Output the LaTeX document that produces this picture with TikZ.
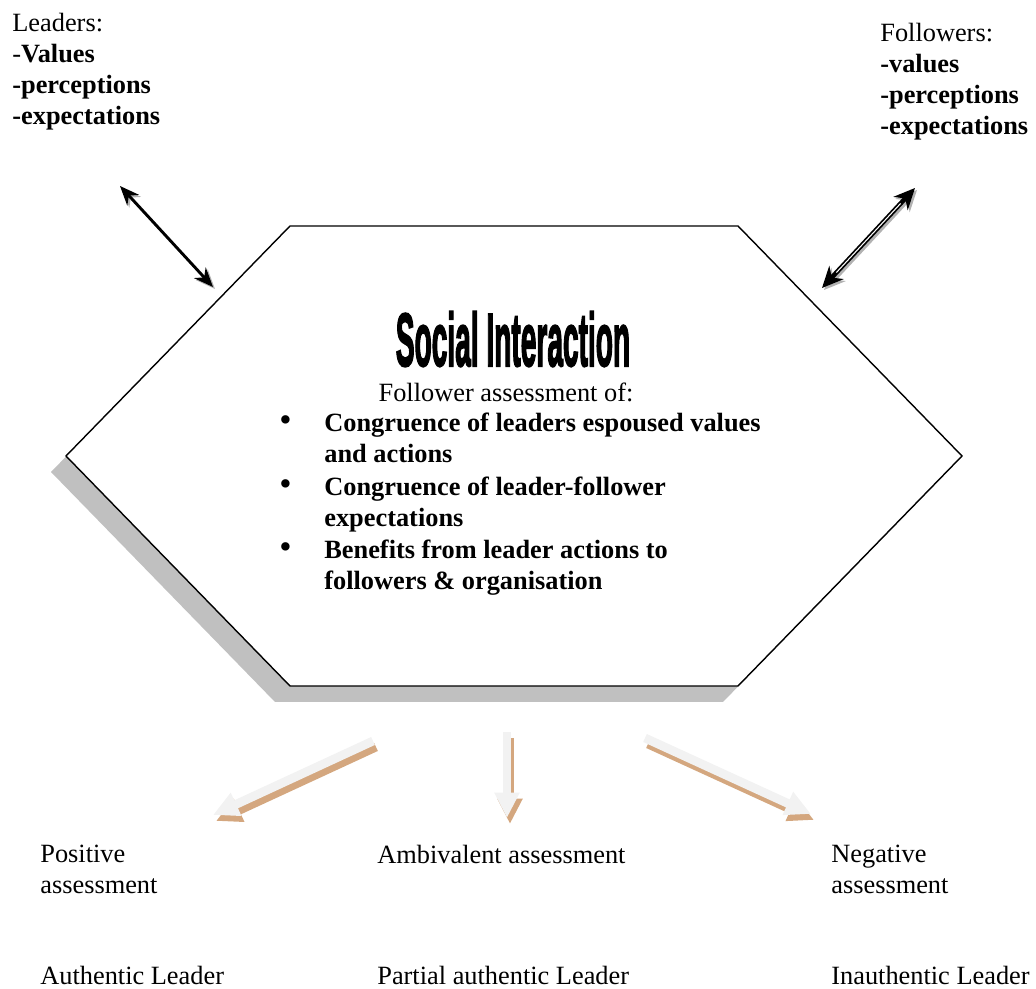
\documentclass[tikz,border=0pt]{standalone}
\usepackage{fontspec}
\setmainfont{Liberation Serif}
\setsansfont{Liberation Sans}
\newfontfamily\wordart[FakeBold=3]{Liberation Sans Bold}
\usepackage{tikz}
\usetikzlibrary{arrows.meta, positioning, calc}
\definecolor{hexshadow}{RGB}{192,192,192}
\definecolor{outfill}{RGB}{242,242,242}
\definecolor{outshade}{RGB}{212,167,127}
\tikzset{
  txt/.style={inner sep=0pt,align=left,font=\fontsize{15}{17.6}\selectfont},
  hexbox/.style={draw=black,line width=0.8pt,fill=white,line join=miter},
  linkarr/.style={line width=1.6pt,{Stealth[length=11pt,width=9pt]}-{Stealth[length=11pt,width=9pt]}},
  duoarr/.style={line width=2.6pt,{Stealth[length=12pt,width=11pt]}-{Stealth[length=12pt,width=11pt]}},
  outarr/.style={line width=5pt,-{Triangle[length=14.5pt,width=13.5pt]}}
}

\begin{document}
\begin{tikzpicture}[x=0.02cm,y=-0.02cm]
  \useasboundingbox (0,0) rectangle (1036,989);

  % hexagon corners
  \coordinate (h1) at (290,226);
  \coordinate (h2) at (738,226);
  \coordinate (h3) at (962,456);
  \coordinate (h4) at (738,686);
  \coordinate (h5) at (290,686);
  \coordinate (h6) at (66,456);
  \fill[hexshadow] ($(h1)+(-15,16)$) -- ($(h2)+(-15,16)$) -- ($(h3)+(-15,16)$)
     -- ($(h4)+(-15,16)$) -- ($(h5)+(-15,16)$) -- ($(h6)+(-15,16)$) -- cycle;
  \draw[hexbox] (h1) -- (h2) -- (h3) -- (h4) -- (h5) -- (h6) -- cycle;

  % top labels
  \node[txt,anchor=north west] (lead) at (12,13)
      {Leaders:\\-\textbf{Values}\\\textbf{-perceptions}\\\textbf{-expectations}};
  \node[txt,anchor=north west] (foll) at (880,23)
      {Followers:\\\textbf{-values}\\\textbf{-perceptions}\\\textbf{-expectations}};

  % centre of the hexagon
  \node[inner sep=0pt] (title) at (513,339)
      {\scalebox{0.4}[1.07]{\wordart\fontsize{40}{40}\selectfont Social Interaction}};
  \node[txt,anchor=center] (assess) at (506,392) {Follower assessment of:};
  \node[txt,anchor=north west] (items) at (279,410)
      {\renewcommand{\arraystretch}{1}%
       \begin{tabular}{@{}p{0.9cm}@{}l@{}}
       {\fontsize{20}{17.6}\selectfont\textbullet} & \textbf{Congruence of leaders espoused values}\\
                   & \textbf{and actions}\\[0.8pt]
       {\fontsize{20}{17.6}\selectfont\textbullet} & \textbf{Congruence of leader-follower}\\
                   & \textbf{expectations}\\[0.8pt]
       {\fontsize{20}{17.6}\selectfont\textbullet} & \textbf{Benefits from leader actions to}\\
                   & \textbf{followers \& organisation}
       \end{tabular}};

  % two-way links
  \coordinate (la) at (120,186);
  \coordinate (lb) at (213,287);
  \coordinate (fa) at (915,188);
  \coordinate (fb) at (822,288);
  \draw[linkarr,gray!60] ($(la)+(2,2)$) -- ($(lb)+(2,2)$);
  \draw[linkarr] (la) -- (lb);
  \draw[duoarr,gray!60] ($(fa)+(2,2)$) -- ($(fb)+(2,2)$);
  \draw[duoarr] (fa) -- (fb);
  \draw[white,line width=0.6pt,shorten <=12pt,shorten >=12pt] (fa) -- (fb);

  % outcome arrows
  \coordinate (o1a) at (373,741);
  \coordinate (o1b) at (213,815);
  \coordinate (o2a) at (507,732);
  \coordinate (o2b) at (507,818);
  \coordinate (o3a) at (645,738);
  \coordinate (o3b) at (811,814);
  \foreach \s/\e in {o1a/o1b,o2a/o2b,o3a/o3b}{
    \draw[outarr,outshade] ($(\s)+(3,6)$) -- ($(\e)+(3,6)$);
    \draw[outarr,outfill] (\s) -- (\e);
  }

  % outcomes
  \node[txt,anchor=north west] (pos) at (40,845) {Positive\\assessment};
  \node[txt,anchor=north west] (amb) at (377,845) {Ambivalent assessment};
  \node[txt,anchor=north west] (neg) at (831,845) {Negative\\assessment};
  \node[txt,anchor=north west] (auth) at (40,966) {Authentic Leader};
  \node[txt,anchor=north west] (part) at (377,966) {Partial authentic Leader};
  \node[txt,anchor=north west] (inauth) at (831,966) {Inauthentic Leader};
\end{tikzpicture}
\end{document}
